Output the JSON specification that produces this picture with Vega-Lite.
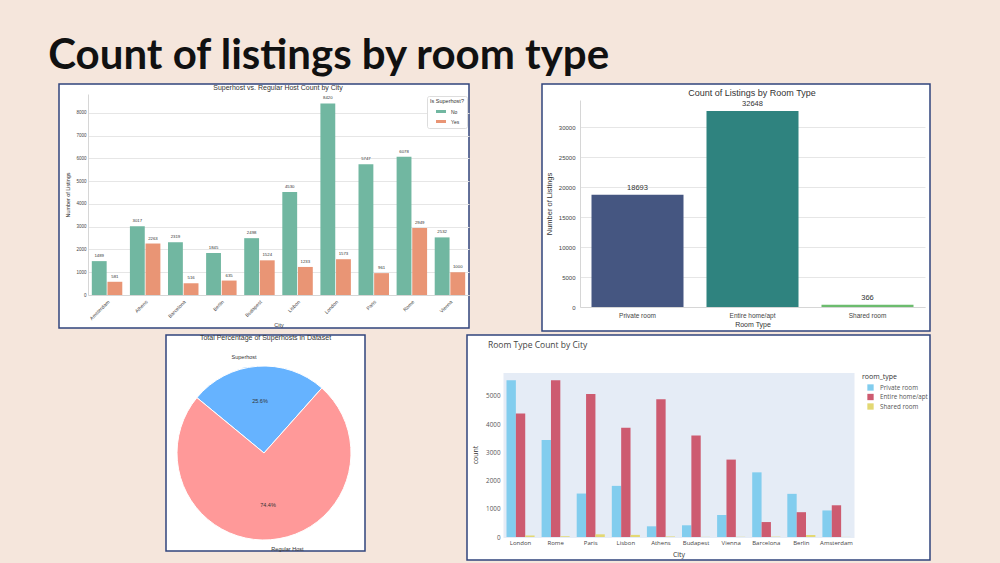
{
  "$schema": "https://vega.github.io/schema/vega-lite/v6.json",
  "background": "#f5e6dc",
  "padding": {"left": 48, "top": 34, "right": 70, "bottom": 3},
  "title": {"text": "Count of listings by room type", "font": "Lato", "fontSize": 42, "fontWeight": "bold", "color": "#111111", "anchor": "start", "dx": -10, "offset": 5.6},
  "config": {
    "font": "Liberation Sans",
    "view": {"stroke": null},
    "axis": {"ticks": false, "labelColor": "#444444", "titleColor": "#333333", "titleFontWeight": "normal"}
  },
  "resolve": {"scale": {"color": "independent", "xOffset": "independent", "theta": "independent"}, "legend": {"color": "independent"}},
  "datasets": {
    "hosts": [
      {"city": "Amsterdam", "superhost": "No", "count": 1489}, {"city": "Amsterdam", "superhost": "Yes", "count": 581},
      {"city": "Athens", "superhost": "No", "count": 3017}, {"city": "Athens", "superhost": "Yes", "count": 2263},
      {"city": "Barcelona", "superhost": "No", "count": 2319}, {"city": "Barcelona", "superhost": "Yes", "count": 516},
      {"city": "Berlin", "superhost": "No", "count": 1845}, {"city": "Berlin", "superhost": "Yes", "count": 635},
      {"city": "Budapest", "superhost": "No", "count": 2498}, {"city": "Budapest", "superhost": "Yes", "count": 1524},
      {"city": "Lisbon", "superhost": "No", "count": 4530}, {"city": "Lisbon", "superhost": "Yes", "count": 1233},
      {"city": "London", "superhost": "No", "count": 8420}, {"city": "London", "superhost": "Yes", "count": 1573},
      {"city": "Paris", "superhost": "No", "count": 5747}, {"city": "Paris", "superhost": "Yes", "count": 961},
      {"city": "Rome", "superhost": "No", "count": 6078}, {"city": "Rome", "superhost": "Yes", "count": 2949},
      {"city": "Vienna", "superhost": "No", "count": 2532}, {"city": "Vienna", "superhost": "Yes", "count": 1000}
    ],
    "rooms": [
      {"room": "Private room", "count": 18693},
      {"room": "Entire home/apt", "count": 32648},
      {"room": "Shared room", "count": 366}
    ],
    "pie": [
      {"host": "Superhost", "pct": 25.6, "label": "25.6%", "ord": 1},
      {"host": "Regular Host", "pct": 74.4, "label": "74.4%", "ord": 2}
    ],
    "cityrooms": [
      {"city": "London", "room": "Private room", "count": 5560}, {"city": "London", "room": "Entire home/apt", "count": 4380}, {"city": "London", "room": "Shared room", "count": 53},
      {"city": "Rome", "room": "Private room", "count": 3440}, {"city": "Rome", "room": "Entire home/apt", "count": 5560}, {"city": "Rome", "room": "Shared room", "count": 27},
      {"city": "Paris", "room": "Private room", "count": 1541}, {"city": "Paris", "room": "Entire home/apt", "count": 5072}, {"city": "Paris", "room": "Shared room", "count": 95},
      {"city": "Lisbon", "room": "Private room", "count": 1813}, {"city": "Lisbon", "room": "Entire home/apt", "count": 3875}, {"city": "Lisbon", "room": "Shared room", "count": 75},
      {"city": "Athens", "room": "Private room", "count": 379}, {"city": "Athens", "room": "Entire home/apt", "count": 4882}, {"city": "Athens", "room": "Shared room", "count": 19},
      {"city": "Budapest", "room": "Private room", "count": 415}, {"city": "Budapest", "room": "Entire home/apt", "count": 3602}, {"city": "Budapest", "room": "Shared room", "count": 5},
      {"city": "Vienna", "room": "Private room", "count": 780}, {"city": "Vienna", "room": "Entire home/apt", "count": 2745}, {"city": "Vienna", "room": "Shared room", "count": 7},
      {"city": "Barcelona", "room": "Private room", "count": 2293}, {"city": "Barcelona", "room": "Entire home/apt", "count": 530}, {"city": "Barcelona", "room": "Shared room", "count": 12},
      {"city": "Berlin", "room": "Private room", "count": 1530}, {"city": "Berlin", "room": "Entire home/apt", "count": 880}, {"city": "Berlin", "room": "Shared room", "count": 70},
      {"city": "Amsterdam", "room": "Private room", "count": 942}, {"city": "Amsterdam", "room": "Entire home/apt", "count": 1125}, {"city": "Amsterdam", "room": "Shared room", "count": 3}
    ]
  },
  "spacing": 1,
  "vconcat": [
    {
      "spacing": 71,
      "resolve": {"scale": {"color": "independent", "xOffset": "independent"}, "legend": {"color": "independent"}},
      "hconcat": [
        {
          "width": 410, "height": 244,
          "view": {"fill": "white", "stroke": "#30447c", "strokeWidth": 1.5},
          "title": {"text": "Superhost vs. Regular Host Count by City", "fontSize": 7, "fontWeight": "normal", "color": "#333333", "anchor": "middle", "dx": 14, "offset": -7},
          "data": {"name": "hosts"},
          "encoding": {
            "x": {"field": "city", "type": "nominal", "sort": ["Amsterdam","Athens","Barcelona","Berlin","Budapest","Lisbon","London","Paris","Rome","Vienna"],
              "scale": {"range": [29, 410], "paddingInner": 0.2, "paddingOuter": 0.1},
              "axis": {"offset": -33, "labelAngle": -45, "labelAlign": "right", "labelBaseline": "top", "labelFontSize": 5, "labelPadding": 4, "domainColor": "#d6d6d6", "title": "City", "titleFontSize": 5.4, "titlePadding": 2}},
            "y": {"field": "count", "type": "quantitative",
              "scale": {"domain": [0, 8835], "range": [211, 10], "nice": false},
              "axis": {"offset": -29, "values": [0,1000,2000,3000,4000,5000,6000,7000,8000], "format": "d", "labelFontSize": 4.5, "labelPadding": 2, "domainColor": "#d6d6d6", "gridColor": "#e6e6e6", "title": "Number of Listings", "titleFontSize": 5.4, "titlePadding": 5}},
            "xOffset": {"field": "superhost", "type": "nominal", "scale": {"domain": ["No","Yes"], "paddingInner": 0.05}}
          },
          "layer": [
            {"mark": {"type": "bar"},
             "encoding": {"color": {"field": "superhost", "type": "nominal",
               "scale": {"domain": ["No","Yes"], "range": ["#71b7a1","#e99575"]},
               "legend": {"title": "Is Superhost?", "orient": "none", "legendX": 368, "legendY": 12, "padding": 3, "fillColor": "white", "strokeColor": "#dddddd", "cornerRadius": 2,
                 "titleFontSize": 5.5, "titleFontWeight": "normal", "titleColor": "#333333", "titlePadding": 2, "labelFontSize": 5, "labelColor": "#333333",
                 "symbolType": "M-1,-0.3H1V0.3H-1Z", "symbolSize": 100, "symbolStrokeWidth": 0, "symbolOffset": 6, "labelOffset": 5, "rowPadding": 2}}}},
            {"mark": {"type": "text", "dy": -3, "baseline": "bottom", "fontSize": 4.3, "color": "#333333"},
             "encoding": {"text": {"field": "count", "type": "quantitative", "format": "d"}}}
          ]
        },
        {
          "width": 388, "height": 247,
          "view": {"fill": "white", "stroke": "#30447c", "strokeWidth": 1.5},
          "title": {"text": "Count of Listings by Room Type", "fontSize": 9, "fontWeight": "normal", "color": "#333333", "anchor": "middle", "dx": 16, "offset": -14},
          "data": {"name": "rooms"},
          "encoding": {
            "x": {"field": "room", "type": "nominal", "sort": ["Private room","Entire home/apt","Shared room"],
              "scale": {"range": [38, 383], "paddingInner": 0.2, "paddingOuter": 0.1},
              "axis": {"offset": -24, "labelAngle": 0, "labelFontSize": 6.5, "labelPadding": 5, "domainColor": "#d6d6d6", "title": "Room Type", "titleFontSize": 7, "titlePadding": 2}},
            "y": {"field": "count", "type": "quantitative",
              "scale": {"domain": [0, 34500], "range": [223, 16], "nice": false},
              "axis": {"offset": -38, "values": [0,5000,10000,15000,20000,25000,30000], "format": "d", "labelFontSize": 6, "labelPadding": 5, "domainColor": "#d6d6d6", "gridColor": "#e6e6e6", "title": "Number of Listings", "titleFontSize": 7.5, "titlePadding": 5}}
          },
          "layer": [
            {"mark": {"type": "bar"},
             "encoding": {"color": {"field": "room", "type": "nominal", "scale": {"domain": ["Private room","Entire home/apt","Shared room"], "range": ["#455681","#2f837f","#6cbc6e"]}, "legend": null}}},
            {"mark": {"type": "text", "dy": -3, "baseline": "bottom", "fontSize": 7.5, "color": "#333333"},
             "encoding": {"text": {"field": "count", "type": "quantitative", "format": "d"}}}
          ]
        }
      ]
    },
    {
      "spacing": 100,
      "resolve": {"scale": {"color": "independent", "xOffset": "independent", "theta": "independent"}, "legend": {"color": "independent"}},
      "hconcat": [
        {
          "width": 5, "height": 10,
          "data": {"values": [{}]},
          "mark": {"type": "point", "opacity": 0}
        },
        {
          "width": 199, "height": 216,
          "view": {"fill": "white", "stroke": "#30447c", "strokeWidth": 1.5},
          "title": {"text": "Total Percentage of Superhosts in Dataset", "fontSize": 7, "fontWeight": "normal", "color": "#333333", "anchor": "middle", "offset": -6},
          "data": {"name": "pie"},
          "encoding": {
            "theta": {"field": "pct", "type": "quantitative", "stack": true, "scale": {"range": [-0.881, 5.402]}},
            "order": {"field": "ord", "type": "quantitative"}
          },
          "layer": [
            {"mark": {"type": "arc", "radius": 87, "stroke": "white", "strokeWidth": 1, "yOffset": 10, "xOffset": -1.5},
             "encoding": {"color": {"field": "host", "type": "nominal", "scale": {"domain": ["Superhost","Regular Host"], "range": ["#66b3ff","#ff9999"]}, "legend": null}}},
            {"mark": {"type": "text", "radius": 52, "fontSize": 5.5, "color": "#333333", "yOffset": 10, "xOffset": -1.5},
             "encoding": {"detail": {"field": "host", "type": "nominal"}, "text": {"field": "label", "type": "nominal"}}},
            {"mark": {"type": "text", "radius": 96, "align": "right", "fontSize": 5.5, "color": "#333333", "yOffset": 10, "xOffset": -1.5},
             "encoding": {"detail": {"field": "host", "type": "nominal"}, "text": {"condition": {"test": "datum.host === 'Superhost'", "field": "host"}, "value": ""}}},
            {"mark": {"type": "text", "radius": 96, "align": "left", "fontSize": 5.5, "color": "#333333", "yOffset": 10, "xOffset": -1.5},
             "encoding": {"detail": {"field": "host", "type": "nominal"}, "text": {"condition": {"test": "datum.host === 'Regular Host'", "field": "host"}, "value": ""}}}
          ]
        },
        {
          "width": 463, "height": 225,
          "view": {"fill": "white", "stroke": "#30447c", "strokeWidth": 1.5},
          "title": {"text": "Room Type Count by City", "font": "Open Sans", "fontSize": 8.5, "fontWeight": "normal", "color": "#444444", "anchor": "start", "dx": 21, "offset": -14},
          "data": {"name": "cityrooms"},
          "encoding": {
            "x": {"field": "city", "type": "nominal", "sort": ["London","Rome","Paris","Lisbon","Athens","Budapest","Vienna","Barcelona","Berlin","Amsterdam"],
              "scale": {"range": [36, 387], "paddingInner": 0.2, "paddingOuter": 0.1},
              "axis": {"offset": -23, "labelAngle": 0, "labelFont": "Open Sans", "labelFontSize": 6, "labelColor": "#444444", "labelPadding": 2, "domain": false, "title": "City", "titleFont": "Open Sans", "titleFontSize": 7, "titlePadding": 5}},
            "xOffset": {"field": "room", "type": "nominal", "scale": {"domain": ["Private room","Entire home/apt","Shared room"], "paddingInner": 0}}
          },
          "layer": [
            {"mark": {"type": "bar"},
             "encoding": {
               "y": {"field": "count", "type": "quantitative", "scale": {"domain": [0, 5851], "range": [202, 37], "nice": false},
                 "axis": {"orient": "left", "offset": -36, "values": [2925.5], "grid": true, "gridColor": "#e5ecf6", "gridWidth": 165, "labels": false, "domain": false, "title": null}},
               "color": {"field": "room", "type": "nominal", "scale": {"domain": ["Private room","Entire home/apt","Shared room"], "range": ["#82cdee","#cd5b70","#e3d873"]},
                 "legend": {"title": "room_type", "orient": "none", "legendX": 395, "legendY": 38, "padding": 0, "titleFont": "Open Sans", "titleFontSize": 7, "titleFontWeight": "normal", "titleColor": "#333333", "titleAnchor": "start", "titlePadding": 4,
                   "labelFont": "Open Sans", "labelFontSize": 6.3, "labelColor": "#555555", "symbolType": "square", "symbolSize": 40, "symbolStrokeWidth": 0, "symbolOffset": 5, "labelOffset": 6, "rowPadding": 2.5}}
             }},
            {"mark": {"type": "tick", "opacity": 0},
             "encoding": {
               "y": {"field": "count", "type": "quantitative", "scale": {"domain": [0, 5851], "range": [202, 37], "nice": false},
                 "axis": {"orient": "left", "offset": -36, "values": [0,1000,2000,3000,4000,5000], "format": "d", "gridColor": "white", "gridWidth": 1, "domain": false, "labelFont": "Open Sans", "labelFontSize": 6.3, "labelColor": "#555555", "labelPadding": 3, "title": "count", "titleFont": "Open Sans", "titleFontSize": 7, "titlePadding": 7}}
             }}
          ],
          "resolve": {"axis": {"y": "independent"}}
        }
      ]
    }
  ]
}
